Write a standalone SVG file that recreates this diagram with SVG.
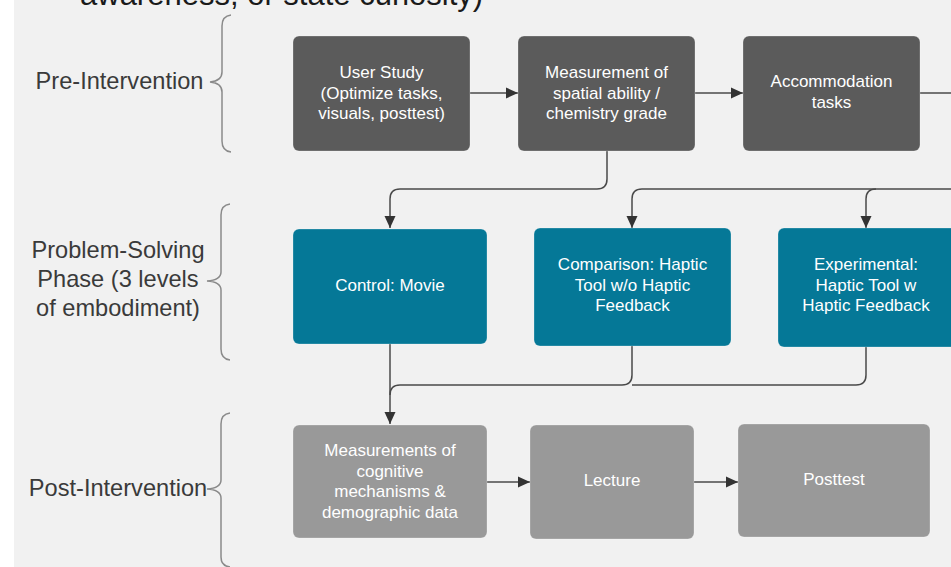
<svg xmlns="http://www.w3.org/2000/svg" width="951" height="567" viewBox="0 0 951 567">
<defs>
<marker id="ah" markerUnits="userSpaceOnUse" markerWidth="12" markerHeight="12" refX="12" refY="6" orient="auto">
<path d="M0,0.5 L12,6 L0,11.5 Z" fill="#333333"/>
</marker>
<style>
.bg{fill:#f1f1f1}
.dk{fill:#5b5b5b}
.tl{fill:#057897}
.lt{fill:#999999}
.bx{stroke:#ffffff;stroke-opacity:0.25;stroke-width:1}
.bt{font-family:"Liberation Sans",Arial,sans-serif;font-size:17px;fill:#ffffff;text-anchor:middle}
.lb{font-family:"Liberation Sans",Arial,sans-serif;font-size:23.6px;fill:#3a3a3a;text-anchor:middle}
.cn{fill:none;stroke:#4a4a4a;stroke-width:1.5}
.br{fill:none;stroke:#8a8a8a;stroke-width:1.5}
</style>
</defs>
<rect x="0" y="0" width="951" height="567" fill="#ffffff"/>
<rect class="bg" x="14" y="0" width="937" height="567"/>
<text x="80" y="5" font-family="Liberation Sans,Arial,sans-serif" font-size="31" fill="#1a1a1a">awareness, or state curiosity)</text>

<g id="labels">
<g id="pre-label">
<text class="lb" x="119.5" y="89">Pre-Intervention</text>
<path class="br" d="M231,15 Q222,16 222,26 V72 Q222,81 210,82 Q222,83 222,92 V141 Q222,151 231,152"/>
</g>
<g id="ps-label">
<text class="lb" x="118" y="258">Problem-Solving</text>
<text class="lb" x="118" y="287">Phase (3 levels</text>
<text class="lb" x="118" y="316">of embodiment)</text>
<path class="br" d="M230,204 Q221,205 221,215 V272 Q221,280 207,281 Q221,282 221,290 V349 Q221,359 230,360"/>
</g>
<g id="post-label">
<text class="lb" x="118" y="496">Post-Intervention</text>
<path class="br" d="M230,413 Q221,414 221,424 V480 Q221,488 207,489 Q221,490 221,498 V557 Q221,566 230,567"/>
</g>
</g>

<g id="connectors">
<path class="cn" d="M470,93 H518" marker-end="url(#ah)"/>
<path class="cn" d="M695,93 H743" marker-end="url(#ah)"/>
<path class="cn" d="M920,93 H952"/>
<path class="cn" d="M607,151 V179 Q607,189 597,189 H400 Q390,189 390,199 V228" marker-end="url(#ah)"/>
<path class="cn" d="M952,189 H642 Q632,189 632,199 V228" marker-end="url(#ah)"/>
<path class="cn" d="M876,189 Q866,189 866,199 V228" marker-end="url(#ah)"/>
<path class="cn" d="M390,344 V424" marker-end="url(#ah)"/>
<path class="cn" d="M632,346 V375 Q632,385 622,385 H400 Q390,385 390,395"/>
<path class="cn" d="M866,347 V375 Q866,385 856,385 H632"/>
<path class="cn" d="M487,482 H530" marker-end="url(#ah)"/>
<path class="cn" d="M694,482 H738" marker-end="url(#ah)"/>
</g>

<g id="user-study">
<rect class="dk bx" x="293" y="36" width="177" height="115" rx="6"/>
<text class="bt" x="381.5" y="78">User Study</text>
<text class="bt" x="381.5" y="98.5">(Optimize tasks,</text>
<text class="bt" x="381.5" y="119">visuals, posttest)</text>
</g>
<g id="measurement">
<rect class="dk bx" x="518" y="36" width="177" height="115" rx="6"/>
<text class="bt" x="606.5" y="78">Measurement of</text>
<text class="bt" x="606.5" y="98.5">spatial ability /</text>
<text class="bt" x="606.5" y="119">chemistry grade</text>
</g>
<g id="accommodation">
<rect class="dk bx" x="743" y="36" width="177" height="115" rx="6"/>
<text class="bt" x="831.5" y="87">Accommodation</text>
<text class="bt" x="831.5" y="107.5">tasks</text>
</g>

<g id="control">
<rect class="tl bx" x="293" y="229" width="194" height="115" rx="6"/>
<text class="bt" x="390" y="291">Control: Movie</text>
</g>
<g id="comparison">
<rect class="tl bx" x="534" y="228" width="197" height="118" rx="6"/>
<text class="bt" x="632.5" y="270">Comparison: Haptic</text>
<text class="bt" x="632.5" y="290.5">Tool w/o Haptic</text>
<text class="bt" x="632.5" y="311">Feedback</text>
</g>
<g id="experimental">
<rect class="tl bx" x="778" y="228" width="180" height="119" rx="6"/>
<text class="bt" x="866" y="270">Experimental:</text>
<text class="bt" x="866" y="290.5">Haptic Tool w</text>
<text class="bt" x="866" y="311">Haptic Feedback</text>
</g>

<g id="measurements-cognitive">
<rect class="lt bx" x="293" y="425" width="194" height="113" rx="6"/>
<text class="bt" x="390" y="456">Measurements of</text>
<text class="bt" x="390" y="476.5">cognitive</text>
<text class="bt" x="390" y="497">mechanisms &amp;</text>
<text class="bt" x="390" y="517.5">demographic data</text>
</g>
<g id="lecture">
<rect class="lt bx" x="530" y="425" width="164" height="114" rx="6"/>
<text class="bt" x="612" y="486">Lecture</text>
</g>
<g id="posttest">
<rect class="lt bx" x="738" y="424" width="192" height="113" rx="6"/>
<text class="bt" x="834" y="485">Posttest</text>
</g>
</svg>
